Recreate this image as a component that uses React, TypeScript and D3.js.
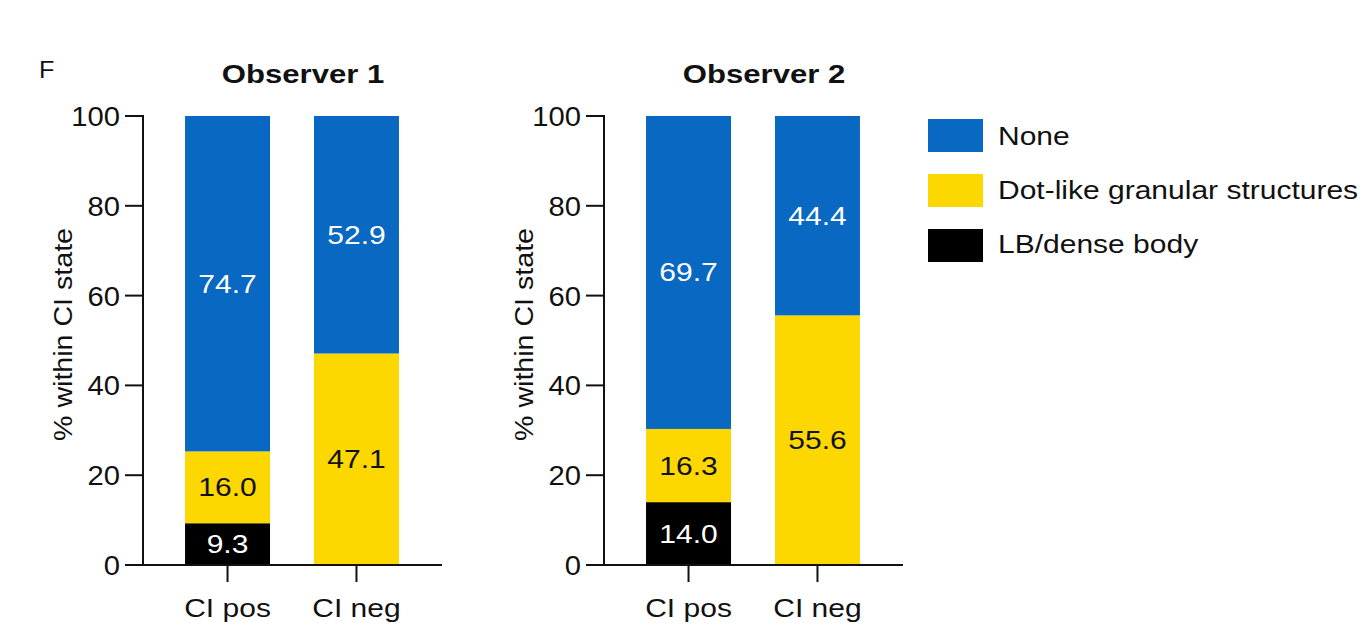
import React from "react";
import * as d3 from "d3";

const categories = ["CI pos", "CI neg"];
const seriesNames = ["LB/dense body", "Dot-like granular structures", "None"];
const legendOrder = ["None", "Dot-like granular structures", "LB/dense body"];
const colors: Record<string, string> = {
  "None": "#0868c2",
  "Dot-like granular structures": "#fdd800",
  "LB/dense body": "#000000",
};
const textColors: Record<string, string> = {
  "None": "#ffffff",
  "Dot-like granular structures": "#111111",
  "LB/dense body": "#ffffff",
};
const observer1LB = [9.3, 0];
const observer1Dot = [16.0, 47.1];
const observer1None = [74.7, 52.9];
const observer2LB = [14.0, 0];
const observer2Dot = [16.3, 55.6];
const observer2None = [69.7, 44.4];
const yTicks = [0, 20, 40, 60, 80, 100];

const panels = [
  { title: "Observer 1", values: [observer1LB, observer1Dot, observer1None], axisX: 143 },
  { title: "Observer 2", values: [observer2LB, observer2Dot, observer2None], axisX: 604 },
];

const FONT = "'Liberation Sans', Arial, sans-serif";
const SX = 1.2;

function T({ x, y, sx = SX, anchor = "start", size = 25, fill = "#111", weight = "normal", children }: any) {
  return (
    <text
      transform={`translate(${x},${y}) scale(${sx},1)`}
      textAnchor={anchor}
      fontFamily={FONT}
      fontSize={size}
      fontWeight={weight}
      fill={fill}
    >
      {children}
    </text>
  );
}

function Panel({ title, values, axisX }: { title: string; values: number[][]; axisX: number }) {
  const y = d3.scaleLinear().domain([0, 100]).range([565, 116]);
  const x = d3.scaleBand().domain(categories).range([axisX, axisX + 298]).paddingInner(0.341).paddingOuter(0.326);
  const rows = categories.map((c, i) => {
    const r: any = { cat: c };
    seriesNames.forEach((s, k) => (r[s] = values[k][i]));
    return r;
  });
  const stack = d3.stack<any>().keys(seriesNames)(rows);
  const xEnd = axisX + 299;
  return (
    <g>
      <T x={axisX + 160} y={83} anchor="middle" size={25.5} weight="bold" sx={1.22}>
        {title}
      </T>
      {stack.map((layer) =>
        layer.map((d, i) => {
          const v = d[1] - d[0];
          if (v <= 0) return null;
          const cat = categories[i];
          const x0 = x(cat)!;
          return (
            <g key={layer.key + cat}>
              <rect x={x0} y={y(d[1])} width={x.bandwidth()} height={y(d[0]) - y(d[1])} fill={colors[layer.key]} />
              <T x={x0 + x.bandwidth() / 2} y={y((d[0] + d[1]) / 2) + 9} anchor="middle" fill={textColors[layer.key]}>
                {v.toFixed(1)}
              </T>
            </g>
          );
        })
      )}
      <line x1={axisX} x2={axisX} y1={y(100) - 1} y2={y(0)} stroke="#111" strokeWidth={2} />
      <line x1={axisX - 18} x2={xEnd} y1={y(0)} y2={y(0)} stroke="#111" strokeWidth={2} />
      {yTicks.map((t) => (
        <g key={t}>
          <line x1={axisX - 18} x2={axisX} y1={y(t)} y2={y(t)} stroke="#111" strokeWidth={2} />
          <T x={axisX - 23} y={y(t) + 10} anchor="end" size={27} sx={1.08}>
            {t}
          </T>
        </g>
      ))}
      {categories.map((c) => {
        const cx = x(c)! + x.bandwidth() / 2;
        return (
          <g key={c}>
            <line x1={cx} x2={cx} y1={y(0)} y2={y(0) + 17} stroke="#111" strokeWidth={2} />
            <T x={cx} y={617} anchor="middle">
              {c}
            </T>
          </g>
        );
      })}
      <text
        transform={`translate(${axisX - 71},${y(50) - 6}) rotate(-90) scale(1.1,1)`}
        textAnchor="middle"
        fontFamily={FONT}
        fontSize={26}
        fill="#111"
      >
        % within CI state
      </text>
    </g>
  );
}

export default function App() {
  return (
    <svg width={1366} height={631} style={{ position: "absolute", left: 0, top: 0, background: "#fff" }}>
      <rect width={1366} height={631} fill="#fff" />
      <T x={39} y={78} size={24} sx={1.05}>F</T>
      {panels.map((p) => (
        <Panel key={p.title} {...p} />
      ))}
      {legendOrder.map((s, i) => (
        <g key={s}>
          <rect x={928} y={119 + i * 55} width={55} height={33} fill={colors[s]} />
          <T x={998} y={145 + i * 54}>
            {s}
          </T>
        </g>
      ))}
    </svg>
  );
}
